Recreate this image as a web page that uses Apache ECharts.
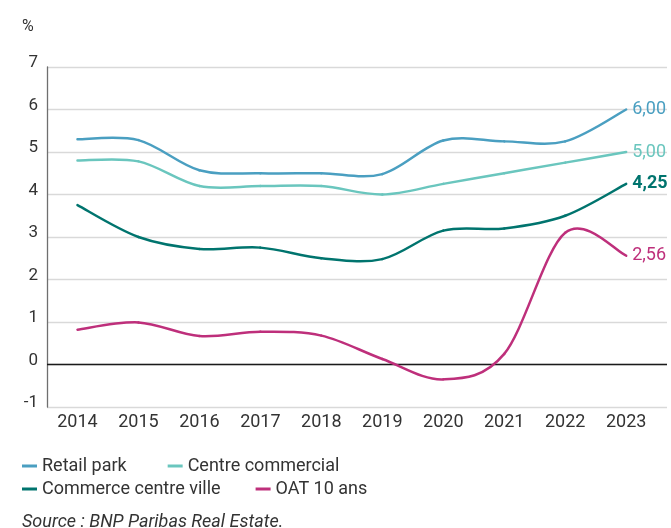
<!DOCTYPE html>
<html>
<head>
<meta charset="utf-8">
<script src="https://cdn.jsdelivr.net/npm/echarts@6/dist/echarts.min.js"></script>
<style>
html,body{margin:0;padding:0;background:#fff;}
#chart{width:671px;height:528px;}
</style>
</head>
<body>
<div id="chart"></div>
<script>
// ---- Data ----
var years = [2014, 2015, 2016, 2017, 2018, 2019, 2020, 2021, 2022, 2023];
var retailPark = [5.3, 5.28, 4.57, 4.5, 4.5, 4.48, 5.27, 5.25, 5.25, 6.0];
var centreCommercial = [4.8, 4.78, 4.2, 4.2, 4.2, 4.0, 4.25, 4.5, 4.75, 5.0];
var commerceCentreVille = [3.75, 3.0, 2.72, 2.75, 2.5, 2.48, 3.15, 3.2, 3.5, 4.25];
var oat10 = [0.82, 0.99, 0.67, 0.77, 0.68, 0.13, -0.35, 0.25, 3.1, 2.56];
var yTicks = [-1, 0, 1, 2, 3, 4, 5, 6, 7];

var names = ['Retail park', 'Centre commercial', 'Commerce centre ville', 'OAT 10 ans'];
var colors = ['#4a9fc1', '#6ac6be', '#00746e', '#be2f7b'];
var values = [retailPark, centreCommercial, commerceCentreVille, oat10];

var FONT = 'Roboto';
var TEXT = '#333333';

function pairs(arr) {
  return years.map(function (y, i) { return [y, arr[i]]; });
}

// Smooth curve segments (Catmull-Rom style), positioned through the chart's own axes
function makeRender(arr, k) {
  var color = colors[k];
  var n = arr.length;
  var T = 1 / 6;
  return function (params, api) {
    var i = params.dataIndex;
    var children = [];
    if (i < n - 1) {
      var a = Math.max(i - 1, 0), d = Math.min(i + 2, n - 1);
      var p0 = api.coord([years[a], arr[a]]);
      var p1 = api.coord([years[i], arr[i]]);
      var p2 = api.coord([years[i + 1], arr[i + 1]]);
      var p3 = api.coord([years[d], arr[d]]);
      children.push({
        type: 'bezierCurve',
        shape: {
          x1: p1[0], y1: p1[1], x2: p2[0], y2: p2[1],
          cpx1: p1[0] + (p2[0] - p0[0]) * T, cpy1: p1[1] + (p2[1] - p0[1]) * T,
          cpx2: p2[0] - (p3[0] - p1[0]) * T, cpy2: p2[1] - (p3[1] - p1[1]) * T
        },
        style: { stroke: color, lineWidth: 2.5, fill: null, lineCap: 'round' }
      });
    } else {
      var p = api.coord([years[i], arr[i]]);
      children.push({
        type: 'text',
        x: p[0] + 6, y: p[1],
        style: {
          text: arr[i].toFixed(2).replace('.', ','),
          fill: color,
          fontFamily: FONT, fontSize: 18,
          fontWeight: k === 2 ? 'bold' : 'normal',
          align: 'left', verticalAlign: 'middle'
        }
      });
    }
    return { type: 'group', children: children };
  };
}

var series = names.map(function (n, k) {
  var s = {
    name: n,
    type: 'custom',
    coordinateSystem: 'cartesian2d',
    data: pairs(values[k]),
    encode: { x: 0, y: 1 },
    clip: false,
    silent: true,
    itemStyle: { color: colors[k] },
    z: 3 + k,
    renderItem: makeRender(values[k], k)
  };
  if (k === 0) {
    s.markLine = {
      silent: true,
      symbol: 'none',
      label: { show: false },
      lineStyle: { color: '#1a1a1a', width: 1.3, type: 'solid' },
      data: [{ yAxis: 0 }],
      z: 2
    };
  }
  return s;
});

var chart = echarts.init(document.getElementById('chart'), null, { renderer: 'canvas' });
chart.setOption({
  animation: false,
  backgroundColor: '#fff',
  textStyle: { fontFamily: FONT },
  grid: { left: 47, right: 4, top: 67, bottom: 121, containLabel: false },
  graphic: [{
    type: 'text', left: 22, top: 19,
    style: { text: '%', fontFamily: FONT, fontSize: 16, fill: TEXT }
  }, {
    type: 'text', left: 22, top: 513,
    style: { text: 'Source : BNP Paribas Real Estate.', fontFamily: FONT, fontSize: 18, fontStyle: 'italic', fill: TEXT }
  }],
  legend: [{
    data: names.slice(0, 2),
    left: 22, top: 457, padding: 0,
    icon: 'rect', itemWidth: 15, itemHeight: 3, itemGap: 41,
    textStyle: { fontFamily: FONT, fontSize: 18, color: TEXT, lineHeight: 18 }
  }, {
    data: names.slice(2, 4),
    left: 22, top: 480, padding: 0,
    icon: 'rect', itemWidth: 15, itemHeight: 3, itemGap: 35,
    textStyle: { fontFamily: FONT, fontSize: 18, color: TEXT, lineHeight: 18 }
  }],
  xAxis: {
    type: 'value',
    min: 2013.5,
    max: 2023.67,
    axisLine: { show: false },
    axisTick: { show: false },
    splitLine: { show: false },
    axisLabel: {
      customValues: years,
      color: TEXT, fontFamily: FONT, fontSize: 18, margin: 6,
      formatter: function (v) { return String(Math.round(v)); }
    }
  },
  yAxis: {
    type: 'value',
    min: -1, max: 7, interval: 1,
    axisLine: { show: true, lineStyle: { color: '#6f6f6f', width: 1.3 } },
    axisTick: { show: false },
    splitLine: { show: true, lineStyle: { color: '#d9d9d9', width: 1.3 } },
    axisLabel: {
      customValues: yTicks,
      color: TEXT, fontFamily: FONT, fontSize: 17, margin: 9,
      verticalAlign: 'bottom', lineHeight: 8
    }
  },
  series: series
});
</script>
</body>
</html>
